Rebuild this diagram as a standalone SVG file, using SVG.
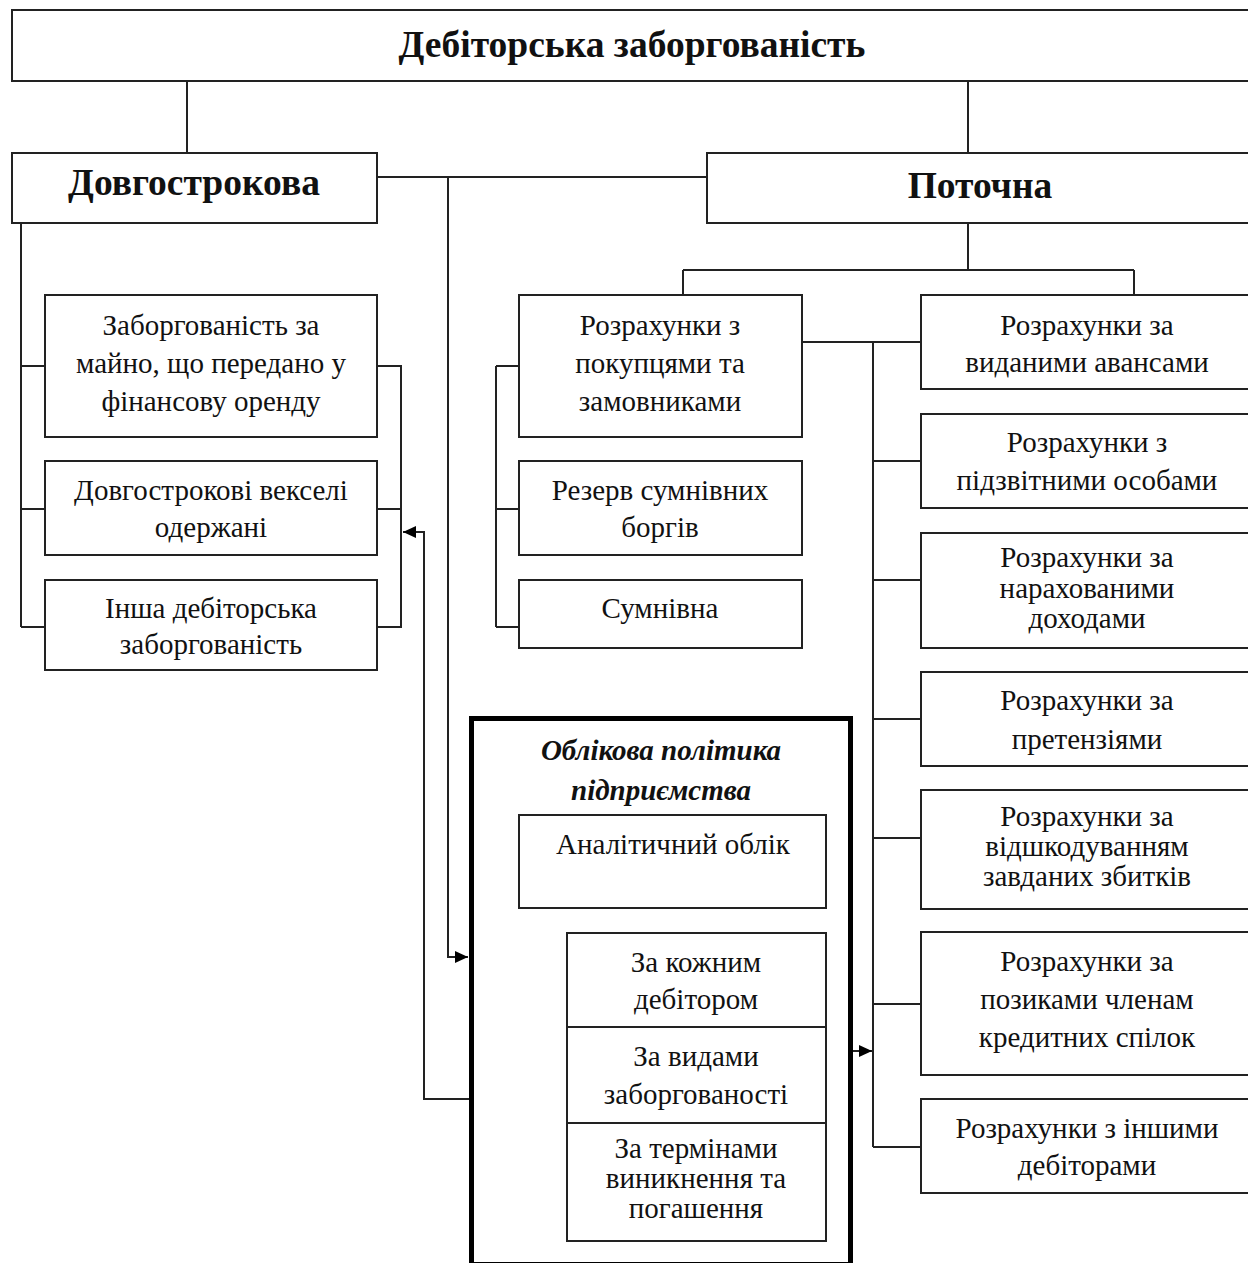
<svg xmlns="http://www.w3.org/2000/svg" width="1248" height="1263" viewBox="0 0 1248 1263">
<style>
  .box{fill:#fff;stroke:#222;stroke-width:2}
  .thick{fill:#fff;stroke:#000;stroke-width:5}
  .ln{fill:none;stroke:#222;stroke-width:2}
  text{font-family:"Liberation Serif","Times New Roman",serif;fill:#111;text-anchor:middle}
  .t{font-size:29px}
  .h{font-size:37.5px;font-weight:bold}
  .bi{font-size:29px;font-weight:bold;font-style:italic}
</style>
<defs>
  <marker id="ah" markerUnits="userSpaceOnUse" markerWidth="14" markerHeight="14" viewBox="0 0 14 14" refX="13" refY="7" orient="auto">
    <path d="M0,1 L13,7 L0,13 Z" fill="#000"/>
  </marker>
</defs>
<rect width="1248" height="1263" fill="#fff"/>

<g id="connectors">
  <path class="ln" d="M187,81 V153 M968,81 V153"/>
  <path class="ln" d="M377,177 H707"/>
  <path class="ln" d="M448,177 V957 H468" marker-end="url(#ah)"/>
  <path class="ln" d="M21,223 V627 M21,366 H45 M21,509 H45 M21,627 H45"/>
  <path class="ln" d="M377,366 H401 V627 H377 M377,509 H401"/>
  <path class="ln" d="M469,1099 H424 V532 H403" marker-end="url(#ah)"/>
  <path class="ln" d="M968,223 V270 M683,270 H1134 M683,270 V295 M1134,270 V295"/>
  <path class="ln" d="M496,366 V627 M496,366 H519 M496,509 H519 M496,627 H519"/>
  <path class="ln" d="M802,342 H921 M873,342 V1147 M873,461 H921 M873,580 H921 M873,719 H921 M873,838 H921 M873,1004 H921 M873,1147 H921"/>
  <path class="ln" d="M853,1051 H872" marker-end="url(#ah)"/>
  <path class="ln" d="M543,908 V1194 M543,979 H567 M543,1076 H567 M543,1194 H567"/>
</g>

<g id="n-root">
  <rect class="box" x="12" y="10" width="1250" height="71"/>
  <text class="h" x="632" y="57">Дебіторська заборгованість</text>
</g>
<g id="n-long">
  <rect class="box" x="12" y="153" width="365" height="70"/>
  <text class="h" x="194" y="195">Довгострокова</text>
</g>
<g id="n-current">
  <rect class="box" x="707" y="153" width="560" height="70"/>
  <text class="h" x="980" y="198">Поточна</text>
</g>

<g id="n-l1">
  <rect class="box" x="45" y="295" width="332" height="142"/>
  <text class="t" x="211" y="335">Заборгованість за</text>
  <text class="t" x="211" y="373">майно, що передано у</text>
  <text class="t" x="211" y="411">фінансову оренду</text>
</g>
<g id="n-l2">
  <rect class="box" x="45" y="461" width="332" height="94"/>
  <text class="t" x="211" y="500">Довгострокові векселі</text>
  <text class="t" x="211" y="537">одержані</text>
</g>
<g id="n-l3">
  <rect class="box" x="45" y="580" width="332" height="90"/>
  <text class="t" x="211" y="618">Інша дебіторська</text>
  <text class="t" x="211" y="654">заборгованість</text>
</g>

<g id="n-m1">
  <rect class="box" x="519" y="295" width="283" height="142"/>
  <text class="t" x="660" y="335">Розрахунки з</text>
  <text class="t" x="660" y="373">покупцями та</text>
  <text class="t" x="660" y="411">замовниками</text>
</g>
<g id="n-m2">
  <rect class="box" x="519" y="461" width="283" height="94"/>
  <text class="t" x="660" y="500">Резерв сумнівних</text>
  <text class="t" x="660" y="537">боргів</text>
</g>
<g id="n-m3">
  <rect class="box" x="519" y="580" width="283" height="68"/>
  <text class="t" x="660" y="618">Сумнівна</text>
</g>

<g id="n-r1">
  <rect class="box" x="921" y="295" width="340" height="94"/>
  <text class="t" x="1087" y="335">Розрахунки за</text>
  <text class="t" x="1087" y="372">виданими авансами</text>
</g>
<g id="n-r2">
  <rect class="box" x="921" y="414" width="340" height="94"/>
  <text class="t" x="1087" y="452">Розрахунки з</text>
  <text class="t" x="1087" y="490">підзвітними особами</text>
</g>
<g id="n-r3">
  <rect class="box" x="921" y="533" width="340" height="115"/>
  <text class="t" x="1087" y="567">Розрахунки за</text>
  <text class="t" x="1087" y="598">нарахованими</text>
  <text class="t" x="1087" y="628">доходами</text>
</g>
<g id="n-r4">
  <rect class="box" x="921" y="672" width="340" height="94"/>
  <text class="t" x="1087" y="710">Розрахунки за</text>
  <text class="t" x="1087" y="749">претензіями</text>
</g>
<g id="n-r5">
  <rect class="box" x="921" y="790" width="340" height="119"/>
  <text class="t" x="1087" y="826">Розрахунки за</text>
  <text class="t" x="1087" y="856">відшкодуванням</text>
  <text class="t" x="1087" y="886">завданих збитків</text>
</g>
<g id="n-r6">
  <rect class="box" x="921" y="932" width="340" height="143"/>
  <text class="t" x="1087" y="971">Розрахунки за</text>
  <text class="t" x="1087" y="1009">позиками членам</text>
  <text class="t" x="1087" y="1047">кредитних спілок</text>
</g>
<g id="n-r7">
  <rect class="box" x="921" y="1099" width="340" height="94"/>
  <text class="t" x="1087" y="1138">Розрахунки з іншими</text>
  <text class="t" x="1087" y="1175">дебіторами</text>
</g>

<g id="n-policy">
  <rect class="thick" x="471.5" y="718.5" width="379" height="546"/>
  <text class="bi" x="661" y="760">Облікова політика</text>
  <text class="bi" x="661" y="800">підприємства</text>
</g>
<g id="n-analytic">
  <rect class="box" x="519" y="815" width="307" height="93"/>
  <text class="t" x="673" y="854">Аналітичний облік</text>
</g>
<g id="n-a1">
  <rect class="box" x="567" y="933" width="259" height="94"/>
  <text class="t" x="696" y="972">За кожним</text>
  <text class="t" x="696" y="1009">дебітором</text>
</g>
<g id="n-a2">
  <rect class="box" x="567" y="1027" width="259" height="96"/>
  <text class="t" x="696" y="1066">За видами</text>
  <text class="t" x="696" y="1104">заборгованості</text>
</g>
<g id="n-a3">
  <rect class="box" x="567" y="1123" width="259" height="118"/>
  <text class="t" x="696" y="1158">За термінами</text>
  <text class="t" x="696" y="1188">виникнення та</text>
  <text class="t" x="696" y="1218">погашення</text>
</g>
</svg>
